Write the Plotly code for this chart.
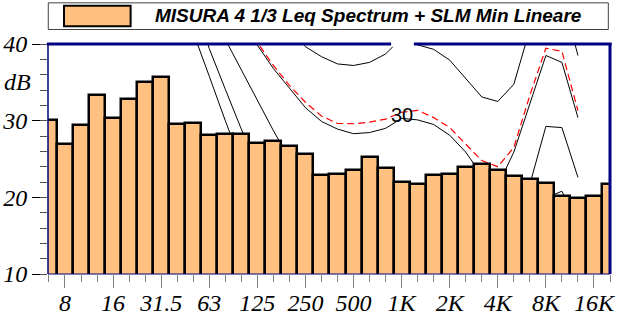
import plotly.graph_objects as go

# 1/3 octave bands (category labels)
bands = ["6.3", "8", "10", "12.5", "16", "20", "25", "31.5", "40", "50", "63", "80",
         "100", "125", "160", "200", "250", "315", "400", "500", "630", "800", "1K",
         "1.25K", "1.6K", "2K", "2.5K", "3.15K", "4K", "5K", "6.3K", "8K", "10K",
         "12.5K", "16K", "20K"]

# MISURA 4 - 1/3 octave Leq spectrum (dB)
leq_db = [30.1, 26.9, 29.5, 33.3, 30.4, 32.8, 35.0, 35.7, 29.6, 29.65, 28.1, 28.2,
          28.25, 27.1, 27.4, 26.7, 25.7, 22.85, 23.0, 23.6, 25.2, 23.8, 22.05,
          21.7, 22.9, 23.0, 24.0, 24.4, 23.6, 22.75, 22.4, 21.85, 20.15,
          19.9, 20.2, 21.7]

# Equal-loudness style contours, bands 20 Hz .. 12.5 kHz
contour_bands = bands[5:34]
iso_0 = [74, 66, 58, 48.5, 41.5, 35.8, 30.0, 24.5, 20.0, 16.0, 13.0, 10.5, 8.5, 7.0,
         5.5, 4.5, 4.0, 3.5, 4.5, 4.5, 2.0, -0.5, -2.0, -1.0, 2.5, 9.0, 14.0, 16.0, 13.0]
iso_10 = [83, 75, 67, 58, 46, 39.4, 34.1, 28.9, 24.0, 20.5, 18.0, 16.0, 14.0, 12.5,
          11.5, 11.0, 10.5, 10.0, 11.0, 11.0, 8.5, 6.0, 4.5, 5.0, 8.0, 13.5, 19.9, 20.8, 16.5]
iso_20 = [89, 82, 75, 68, 60, 53, 40.6, 36.6, 32.6, 28.7, 25.0, 23.0, 21.5, 20.5,
          20.0, 19.8, 20.0, 20.0, 20.5, 20.5, 19.0, 17.0, 15.5, 15.0, 16.5, 21.7, 29.25, 29.1, 22.6]
iso_30 = [94, 88, 81, 75, 68, 61, 54, 47, 39.85, 36.8, 34.2, 31.7, 29.9, 28.9,
          28.3, 28.45, 29.0, 30.3, 30.1, 29.5, 28.1, 25.9, 22.9, 21.5, 25.9, 32.3, 38.5, 37.6, 30.4]
iso_40 = [99, 94, 88, 82, 77, 72, 67, 62, 57, 50, 42.0, 39.65, 38.35, 37.4,
          37.2, 37.6, 38.7, 40.8, 39.9, 39.3, 37.9, 35.5, 33.1, 32.5, 34.75, 41.9, 47.0, 46.5, 38.5]
slm_min = [96, 89, 82, 75, 68, 61, 54, 47.5, 40.2, 37.2, 34.6, 32.4, 30.6, 29.65,
           29.6, 29.8, 30.2, 31.1, 31.35, 30.4, 29.1, 26.9, 24.8, 24.0, 26.5, 33.3, 39.45, 39.05, 31.3]

tick_labels = ["8", "16", "31.5", "63", "125", "250", "500", "1K", "2K", "4K", "8K", "16K"]
legend_text = "MISURA 4 1/3 Leq Spectrum + SLM Min Lineare"

pos = {b: i for i, b in enumerate(bands)}
bar_x = [pos[b] for b in bands]
cx = [pos[b] for b in contour_bands]
tickvals = [pos[t] for t in tick_labels]

SERIF = "Liberation Serif, Times New Roman, serif"
SANS = "Liberation Sans, Arial, sans-serif"
NAVY = "#000080"
BAR = "#FFC080"

fig = go.Figure()

for vals in (iso_0, iso_10, iso_20, iso_30, iso_40):
    fig.add_trace(go.Scatter(x=cx, y=vals, mode="lines", xaxis="x", yaxis="y",
                             line=dict(color="black", width=1),
                             hoverinfo="skip", showlegend=False))
fig.add_trace(go.Scatter(x=cx, y=slm_min, mode="lines", xaxis="x", yaxis="y",
                         line=dict(color="#FF0000", width=1.2, dash="7px,4px"),
                         hoverinfo="skip", showlegend=False))

fig.add_trace(go.Bar(x=bar_x, y=leq_db, xaxis="x2", yaxis="y2", width=1,
                     marker=dict(color=BAR, line=dict(color="black", width=2.5)),
                     hoverinfo="skip", showlegend=False))

xr = [-0.06, 35.0]
yr = [10, 40]
tickfont = dict(family=SERIF, size=24, color="black", style="italic")

fig.update_layout(
    width=617, height=320, autosize=False,
    margin=dict(l=48, r=7, t=44, b=46, pad=0),
    paper_bgcolor="white", plot_bgcolor="white",
    bargap=0, showlegend=False,
    xaxis=dict(range=xr, tickmode="array", tickvals=tickvals, ticktext=tick_labels,
               ticks="outside", ticklen=13, tickwidth=1, tickcolor="#808080",
               tickfont=tickfont, showgrid=False, zeroline=False, showline=False,
               fixedrange=True, automargin=False, ticklabelstandoff=-6),
    yaxis=dict(range=yr, tickmode="array", tickvals=[10, 20, 30, 40],
               ticktext=["10", "20", "30", "40"],
               ticks="outside", ticklen=15, tickwidth=1, tickcolor="black",
               tickfont=tickfont, showgrid=False, zeroline=False, showline=False,
               fixedrange=True, automargin=False),
    xaxis2=dict(range=xr, overlaying="x", anchor="y2", side="bottom",
                tickmode="linear", tick0=0, dtick=1, ticks="outside", ticklen=7,
                tickwidth=1, tickcolor="#808080", showticklabels=False,
                showgrid=False, zeroline=False, showline=False, fixedrange=True,
                automargin=False),
    yaxis2=dict(range=yr, overlaying="y", anchor="x2", side="left",
                tickmode="linear", tick0=10, dtick=2, ticks="outside", ticklen=7,
                tickwidth=1, tickcolor="#505050", showticklabels=False,
                showgrid=False, zeroline=False, showline=False, fixedrange=True,
                automargin=False),
)

shapes = [
    # plot frame
    dict(type="line", xref="paper", yref="paper", x0=0, x1=0, y0=0, y1=1,
         line=dict(color=NAVY, width=1.5), layer="above"),
    dict(type="line", xref="paper", yref="paper", x0=0, x1=1, y0=0, y1=0,
         line=dict(color=NAVY, width=1), layer="above"),
    dict(type="line", xref="paper", yref="paper", x0=-0.002, x1=1.003, y0=1, y1=1,
         line=dict(color=NAVY, width=3), layer="above"),
    dict(type="line", xref="paper", yref="paper", x0=1, x1=1, y0=0, y1=1,
         line=dict(color=NAVY, width=3), layer="above"),
    # white box of the hidden "40" contour label
    dict(type="rect", xref="paper", yref="paper", x0=0.6105, x1=0.651, y0=0.988, y1=1.012,
         fillcolor="white", line=dict(width=0), layer="above"),
    # legend box
    dict(type="rect", xref="paper", yref="paper", x0=0.0005, x1=0.997, y0=1.063, y1=1.179,
         fillcolor="white", line=dict(color="#404040", width=1), layer="above"),
    dict(type="rect", xref="paper", yref="paper", x0=0.0285, x1=0.147, y0=1.0776, y1=1.166,
         fillcolor=BAR, line=dict(color="black", width=2), layer="above"),
]
fig.update_layout(shapes=shapes)

fig.add_annotation(xref="paper", yref="y", x=-0.027, y=35, text="dB", showarrow=False,
                   xanchor="right", yanchor="middle",
                   font=dict(family=SERIF, size=24, color="black", style="italic"))
fig.add_annotation(xref="x", yref="y", x=pos["1K"], y=30.8, text="30", showarrow=False,
                   xanchor="center", yanchor="middle",
                   font=dict(family=SANS, size=20, color="black"))
fig.add_annotation(xref="paper", yref="paper", x=0.186, y=1.123, text=legend_text,
                   showarrow=False, xanchor="left", yanchor="middle",
                   font=dict(family=SANS, size=19, color="black", style="italic",
                             weight="bold"))

fig.write_html("out.html")
